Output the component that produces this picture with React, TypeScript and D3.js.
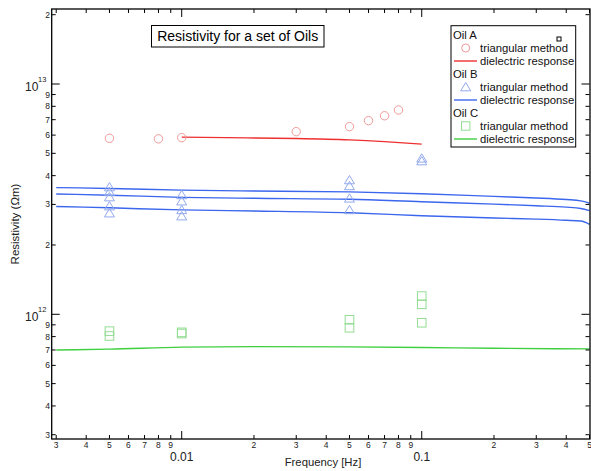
import React from "react";
import * as d3 from "d3";

const oilAFreq = [0.005, 0.008, 0.01, 0.03, 0.05, 0.06, 0.07, 0.08];
const oilARes = [5.81e12, 5.78e12, 5.85e12, 6.21e12, 6.53e12, 6.93e12, 7.28e12, 7.71e12];
const oilALineFreq = [0.01, 0.02, 0.03, 0.05, 0.07, 0.1];
const oilALineRes = [5.88e12, 5.83e12, 5.8e12, 5.72e12, 5.62e12, 5.48e12];

const oilBFreq = [0.005, 0.005, 0.005, 0.005, 0.005, 0.01, 0.01, 0.01, 0.01, 0.05, 0.05, 0.05, 0.05, 0.1, 0.1];
const oilBRes = [3.57e12, 3.4e12, 3.23e12, 2.95e12, 2.75e12, 3.3e12, 3.1e12, 2.84e12, 2.67e12, 3.83e12, 3.61e12, 3.19e12, 2.84e12, 4.76e12, 4.63e12];
const oilBLineFreq = [0.003, 0.005, 0.01, 0.02, 0.05, 0.1, 0.2, 0.3, 0.4, 0.46, 0.5];
const oilBLine1 = [3.55e12, 3.52e12, 3.46e12, 3.43e12, 3.4e12, 3.34e12, 3.25e12, 3.2e12, 3.15e12, 3.11e12, 3.04e12];
const oilBLine2 = [3.33e12, 3.29e12, 3.22e12, 3.19e12, 3.16e12, 3.08e12, 3.01e12, 2.96e12, 2.92e12, 2.88e12, 2.82e12];
const oilBLine3 = [2.94e12, 2.9e12, 2.84e12, 2.81e12, 2.76e12, 2.68e12, 2.62e12, 2.59e12, 2.56e12, 2.54e12, 2.46e12];

const oilCFreq = [0.005, 0.005, 0.01, 0.01, 0.05, 0.05, 0.1, 0.1, 0.1];
const oilCRes = [8.45e11, 8.05e11, 8.35e11, 8.25e11, 9.47e11, 8.74e11, 1.2e12, 1.105e12, 9.19e11];
const oilCLineFreq = [0.003, 0.005, 0.01, 0.02, 0.05, 0.1, 0.2, 0.5];
const oilCLineRes = [7.0e11, 7.06e11, 7.2e11, 7.24e11, 7.22e11, 7.18e11, 7.12e11, 7.08e11];

const xTicks = [0.003, 0.004, 0.005, 0.006, 0.007, 0.008, 0.009, 0.01, 0.02, 0.03, 0.04, 0.05, 0.06, 0.07, 0.08, 0.09, 0.1, 0.2, 0.3, 0.4, 0.5];
const xMajor = [0.01, 0.1];
const xMajorLabels = ["0.01", "0.1"];
const yTicks = [3e11, 4e11, 5e11, 6e11, 7e11, 8e11, 9e11, 1e12, 2e12, 3e12, 4e12, 5e12, 6e12, 7e12, 8e12, 9e12, 1e13, 2e13];
const yMajor = [1e12, 1e13];
const yMajorExp = ["12", "13"];

const legendLabels = ["Oil A", "triangular method", "dielectric response", "Oil B", "triangular method", "dielectric response", "Oil C", "triangular method", "dielectric response"];

const RED_M = "#f29a9a", RED_L = "#ee3030";
const BLUE_M = "#93a9ee", BLUE_L = "#3b66ee";
const GREEN_M = "#93dd93", GREEN_L = "#3fd03f";

const L = 51.7, R = 589.5, T = 9, B = 439;
const FONT = "Liberation Sans, Arial, sans-serif";

export default function App() {
  const x = d3.scaleLog().domain([Math.pow(10, -2.5417), 0.5]).range([L, R]);
  const y = d3.scaleLog().domain([Math.pow(10, 11.4585), Math.pow(10, 13.3257)]).range([B, T]);
  const line = (fs: number[], vs: number[]) =>
    d3.line<number>().x((_, i) => x(fs[i])).y((v) => y(v)).curve(d3.curveMonotoneX)(vs) || "";
  const tri = (cx: number, cy: number) => `M${cx},${cy - 4.5}L${cx + 5},${cy + 3.8}L${cx - 5},${cy + 3.8}Z`;

  const isMajorX = (t: number) => xMajor.some((m) => Math.abs(m - t) / m < 1e-6);
  const isMajorY = (t: number) => yMajor.some((m) => Math.abs(m - t) / m < 1e-6);
  const digitX = (t: number) => String(Math.round(t / Math.pow(10, Math.floor(Math.log10(t) + 1e-9))));

  const legX = 451, legY = 25.7, legW = 124.7, legH = 121.3;
  const rowY = (i: number) => 35 + i * 13;

  return (
    <svg width={591} height={471} style={{ position: "absolute", left: 0, top: 0, background: "#fff" }} fontFamily={FONT}>
      <defs>
        <clipPath id="plot">
          <rect x={L} y={T} width={R - L + 1} height={B - T} />
        </clipPath>
      </defs>
      <rect x={0} y={0} width={591} height={471} fill="#fff" />

      <g clipPath="url(#plot)" fill="none">
        <path d={line(oilALineFreq, oilALineRes)} stroke={RED_L} strokeWidth={1.4} />
        <path d={line(oilBLineFreq, oilBLine1)} stroke={BLUE_L} strokeWidth={1.4} />
        <path d={line(oilBLineFreq, oilBLine2)} stroke={BLUE_L} strokeWidth={1.4} />
        <path d={line(oilBLineFreq, oilBLine3)} stroke={BLUE_L} strokeWidth={1.4} />
        <path d={line(oilCLineFreq, oilCLineRes)} stroke={GREEN_L} strokeWidth={1.4} />
        {oilAFreq.map((f, i) => (
          <circle key={"a" + i} cx={x(f)} cy={y(oilARes[i])} r={4.2} stroke={RED_M} strokeWidth={1} />
        ))}
        {oilBFreq.map((f, i) => (
          <path key={"b" + i} d={tri(x(f), y(oilBRes[i]))} stroke={BLUE_M} strokeWidth={1} />
        ))}
        {oilCFreq.map((f, i) => (
          <rect key={"c" + i} x={x(f) - 4.3} y={y(oilCRes[i]) - 4.3} width={8.6} height={8.6} stroke={GREEN_M} strokeWidth={1} />
        ))}
      </g>

      {/* frame */}
      <rect x={L} y={T} width={R + 0.5 - L} height={B - T} fill="none" stroke="#000" strokeWidth={1.3} />

      {/* x ticks */}
      {xTicks.map((t, i) => {
        const px = x(t);
        const len = isMajorX(t) ? 8 : 4;
        return (
          <g key={"xt" + i}>
            <line x1={px} x2={px} y1={B} y2={B - len} stroke="#000" strokeWidth={1} />
            <line x1={px} x2={px} y1={T} y2={T + len} stroke="#000" strokeWidth={1} />
            {!isMajorX(t) && (
              <text x={px} y={447.8} fontSize={8.5} textAnchor="middle" fill="#222">
                {digitX(t)}
              </text>
            )}
          </g>
        );
      })}
      {xMajor.map((t, i) => (
        <text key={"xm" + i} x={x(t)} y={460.5} fontSize={12} textAnchor="middle" fill="#222">
          {xMajorLabels[i]}
        </text>
      ))}

      {/* y ticks */}
      {yTicks.map((t, i) => {
        const py = y(t);
        const len = isMajorY(t) ? 8 : 4;
        return (
          <g key={"yt" + i}>
            <line x1={L} x2={L + len} y1={py} y2={py} stroke="#000" strokeWidth={1} />
            <line x1={R} x2={R - len} y1={py} y2={py} stroke="#000" strokeWidth={1} />
            {!isMajorY(t) && (
              <text x={50} y={py + 3} fontSize={8.5} textAnchor="end" fill="#222">
                {digitX(t)}
              </text>
            )}
          </g>
        );
      })}
      {yMajor.map((t, i) => (
        <g key={"ym" + i}>
          <text x={25} y={y(t) + 7} fontSize={12} fill="#222">10</text>
          <text x={38} y={y(t) - 2} fontSize={7.5} fill="#222">{yMajorExp[i]}</text>
        </g>
      ))}

      {/* axis labels */}
      <text x={323} y={466} fontSize={11.3} textAnchor="middle" fill="#222">Frequency [Hz]</text>
      <text transform="translate(19,224) rotate(-90)" fontSize={11.5} textAnchor="middle" fill="#222">Resistivity (Ωm)</text>

      {/* title */}
      <rect x={151.5} y={25.5} width={172.5} height={21.5} fill="#fff" stroke="#000" strokeWidth={1} />
      <text x={237.7} y={41} fontSize={14} textAnchor="middle" fill="#000">Resistivity for a set of Oils</text>

      {/* legend */}
      <rect x={legX} y={legY} width={legW} height={legH} fill="#fff" stroke="#000" strokeWidth={1} />
      <rect x={557} y={37} width={4} height={4} fill="none" stroke="#000" strokeWidth={1} />
      {legendLabels.map((lab, i) => {
        const cy = rowY(i);
        const kind = i % 3;
        const grp = Math.floor(i / 3);
        const mc = [RED_M, BLUE_M, GREEN_M][grp];
        const lc = [RED_L, BLUE_L, GREEN_L][grp];
        return (
          <g key={"lg" + i}>
            {kind === 1 && grp === 0 && <circle cx={465.7} cy={cy} r={4} fill="none" stroke={mc} />}
            {kind === 1 && grp === 1 && <path d={tri(465.7, cy)} fill="none" stroke={mc} />}
            {kind === 1 && grp === 2 && <rect x={461.5} y={cy - 4.2} width={8.4} height={8.4} fill="none" stroke={mc} />}
            {kind === 2 && <line x1={454} x2={477} y1={cy} y2={cy} stroke={lc} strokeWidth={1.4} />}
            <text x={kind === 0 ? 453 : 480} y={cy + 4} fontSize={11.3} fill="#111">{lab}</text>
          </g>
        );
      })}
    </svg>
  );
}
